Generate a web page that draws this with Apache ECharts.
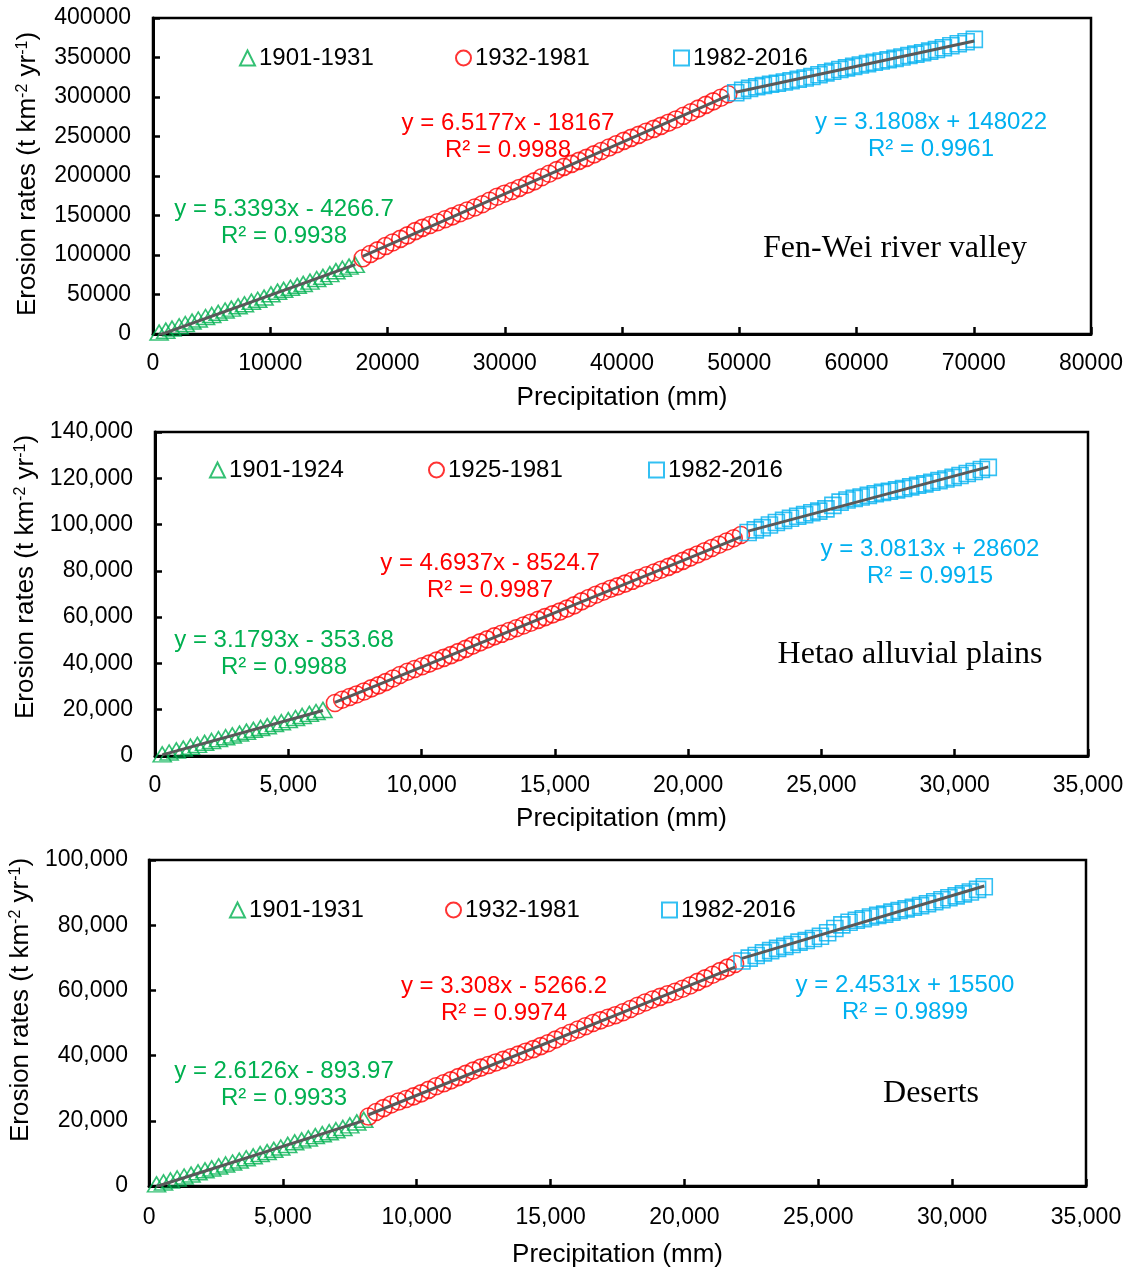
<!DOCTYPE html>
<html><head><meta charset="utf-8">
<script src="https://cdn.jsdelivr.net/npm/echarts@6/dist/echarts.min.js"></script>
<style>html,body{margin:0;padding:0;background:#fff}#c{width:1132px;height:1270px}</style>
</head><body><div id="c"></div>
<script>
const FONT = '"Liberation Sans", Arial, Helvetica, sans-serif';
const SERIF = '"Liberation Serif", "Times New Roman", serif';

// ---------- Fen-Wei river valley ----------
const fenweiPeriods = ['1901-1931', '1932-1981', '1982-2016'];
const fenwei1 = [[520,1800],[1090,4200],[1620,6900],[2230,9800],[2750,12600],[3330,15700],[3860,18300],[4480,21500],[5010,24100],[5560,26800],[6150,29700],[6680,32100],[7260,35000],[7800,37600],[8390,40900],[8930,43300],[9470,46100],[10060,50200],[10620,53600],[11140,55900],[11720,58500],[12300,61000],[12810,63400],[13390,66300],[13960,69600],[14490,72400],[15080,75800],[15600,79500],[16150,82600],[16720,85300],[17250,87500]];
const fenwei2 = [[17880,95800],[18520,101200],[19150,105900],[19820,111300],[20430,115800],[21090,120400],[21700,124900],[22360,130200],[22980,134300],[23620,138000],[24250,141500],[24900,145200],[25530,148900],[26180,152800],[26790,156300],[27440,160100],[28080,164200],[28700,168700],[29350,173800],[29980,177600],[30620,181000],[31240,184900],[31900,189100],[32510,193200],[33160,198500],[33780,202900],[34430,207400],[35050,211500],[35700,215300],[36330,219100],[36960,223000],[37610,227400],[38230,231600],[38880,236000],[39500,240100],[40150,244500],[40780,248300],[41420,252000],[42050,256000],[42700,259700],[43320,263400],[43970,267500],[44600,271600],[45240,276200],[45880,280700],[46500,285300],[47150,290000],[47780,294500],[48420,299000],[49060,303500]];
const fenwei3 = [[49700,305300],[50290,308400],[50880,310900],[51490,312900],[52060,314500],[52670,316100],[53250,317500],[53850,319000],[54420,320600],[55030,322400],[55620,324100],[56200,326000],[56800,328200],[57390,330500],[57970,332600],[58580,334900],[59150,336900],[59760,338800],[60330,340500],[60940,342300],[61520,343900],[62110,345600],[62700,347200],[63290,348900],[63880,350700],[64470,352500],[65060,354300],[65640,356000],[66240,358100],[66820,360100],[67410,362300],[68050,364800],[68680,367500],[69350,370000],[70050,373000]];
const fenweiFits = [[5.3393, -4266.7], [6.5177, -18167], [3.1808, 148022]];
const fenweiEqs = [['y = 5.3393x - 4266.7', 'R² = 0.9938'], ['y = 6.5177x - 18167', 'R² = 0.9988'], ['y = 3.1808x + 148022', 'R² = 0.9961']];

// ---------- Hetao alluvial plains ----------
const hetaoPeriods = ['1901-1924', '1925-1981', '1982-2016'];
const hetao1 = [[270,700],[530,1500],[800,2400],[1060,3200],[1330,4000],[1590,4800],[1860,5700],[2120,6500],[2380,7300],[2650,8100],[2900,8900],[3170,9700],[3430,10500],[3690,11300],[3960,12100],[4210,12900],[4480,13800],[4740,14600],[5000,15500],[5270,16400],[5520,17300],[5790,18200],[6040,19000],[6300,19900]];
const hetao2 = [[6750,22900],[7020,24300],[7300,25500],[7560,26600],[7840,27900],[8110,29200],[8380,30500],[8650,31900],[8930,33500],[9190,35000],[9470,36400],[9740,37600],[10020,38800],[10280,39900],[10560,41200],[10830,42400],[11100,43600],[11370,44900],[11650,46300],[11910,47700],[12190,49100],[12460,50400],[12730,51700],[13000,52800],[13280,54000],[13550,55200],[13820,56400],[14090,57600],[14370,58800],[14630,60000],[14910,61200],[15180,62400],[15450,63700],[15720,65100],[16000,66800],[16270,68300],[16540,69700],[16810,71000],[17090,72300],[17350,73300],[17630,74500],[17900,75700],[18170,76900],[18440,78100],[18720,79300],[18980,80500],[19260,81700],[19530,83000],[19800,84300],[20070,85700],[20350,87100],[20620,88500],[20890,89900],[21160,91300],[21440,92700],[21710,94100],[21980,95500]];
const hetao3 = [[22250,96600],[22520,97700],[22780,98700],[23050,99800],[23310,100900],[23580,101800],[23840,102700],[24110,103600],[24370,104300],[24640,105100],[24900,105800],[25170,106800],[25430,108300],[25700,109700],[25960,110600],[26230,111300],[26490,111900],[26760,112600],[27020,113300],[27290,113900],[27550,114400],[27820,115000],[28080,115600],[28350,116300],[28610,117000],[28880,117600],[29140,118300],[29410,119000],[29670,119700],[29940,120400],[30200,121200],[30470,122100],[30730,122900],[31000,123800],[31260,124700]];
const hetaoFits = [[3.1793, -353.68], [4.6937, -8524.7], [3.0813, 28602]];
const hetaoEqs = [['y = 3.1793x - 353.68', 'R² = 0.9988'], ['y = 4.6937x - 8524.7', 'R² = 0.9987'], ['y = 3.0813x + 28602', 'R² = 0.9915']];

// ---------- Deserts ----------
const desertPeriods = ['1901-1931', '1932-1981', '1982-2016'];
const desert1 = [[280,500],[540,1100],[800,1700],[1050,2300],[1310,2900],[1570,3500],[1830,4200],[2090,4800],[2340,5400],[2600,6000],[2860,6600],[3120,7200],[3370,7800],[3630,8500],[3890,9100],[4150,9800],[4410,10400],[4660,11100],[4920,11800],[5180,12600],[5440,13400],[5700,14000],[5950,14600],[6210,15300],[6470,15900],[6730,16500],[6980,17100],[7240,17800],[7500,18600],[7760,19500],[8020,20300]];
const desert2 = [[8200,21300],[8480,22700],[8760,23900],[9040,25000],[9320,25900],[9600,26700],[9880,27500],[10160,28400],[10440,29500],[10720,30600],[11000,31500],[11270,32400],[11550,33400],[11830,34400],[12110,35400],[12390,36300],[12670,37100],[12950,37900],[13230,38700],[13510,39500],[13790,40300],[14070,41200],[14350,42000],[14630,42900],[14900,43800],[15180,44900],[15460,46000],[15740,47000],[16020,48000],[16300,49000],[16580,50000],[16860,50800],[17140,51600],[17420,52400],[17700,53300],[17980,54300],[18250,55300],[18530,56300],[18810,57200],[19090,58000],[19370,58800],[19650,59600],[19930,60500],[20210,61500],[20490,62600],[20770,63700],[21050,64800],[21330,65900],[21610,67000],[21890,68100]];
const desert3 = [[22150,69000],[22420,69900],[22680,70700],[22950,71500],[23220,72200],[23480,72900],[23750,73500],[24020,74100],[24280,74800],[24550,75300],[24820,75900],[25080,76600],[25350,77700],[25620,79000],[25880,80100],[26150,80900],[26420,81500],[26680,82000],[26950,82500],[27220,83000],[27480,83400],[27750,84000],[28020,84500],[28280,85000],[28550,85500],[28820,86000],[29080,86600],[29350,87200],[29620,87800],[29880,88400],[30150,89000],[30420,89600],[30680,90200],[30950,91000],[31200,91800]];
const desertFits = [[2.6126, -893.97], [3.308, -5266.2], [2.4531, 15500]];
const desertEqs = [['y = 2.6126x - 893.97', 'R² = 0.9933'], ['y = 3.308x - 5266.2', 'R² = 0.9974'], ['y = 2.4531x + 15500', 'R² = 0.9899']];

const regionNames = ['Fen-Wei river valley', 'Hetao alluvial plains', 'Deserts'];
const xAxisTitle = 'Precipitation (mm)';

// ---------- styles / layout ----------
const COLORS = ['#00B050', '#FF0000', '#00B0F0'];
const SYMBOLS = ['triangle', 'circle', 'rect'];
const SYMSIZE = [[18, 15], 17, 16];
const panels = [
  { grid: {left: 153, top: 18, width: 938, height: 316}, xMax: 80000, xInt: 10000, yMax: 400000, yInt: 50000, comma: false,
    data: [fenwei1, fenwei2, fenwei3], names: fenweiPeriods, fits: fenweiFits, eqs: fenweiEqs,
    eqPos: [[284, 209], [508, 123], [931, 122]], labelPos: [895, 249], legendLeft: [239, 455, 673], legendY: 58,
    xLabelMargin: 18, xNameGap: 51, yLabelMargin: 22, yNameGap: 112, yNameShift: 4 },
  { grid: {left: 155, top: 432, width: 933, height: 324}, xMax: 35000, xInt: 5000, yMax: 140000, yInt: 20000, comma: true,
    data: [hetao1, hetao2, hetao3], names: hetaoPeriods, fits: hetaoFits, eqs: hetaoEqs,
    eqPos: [[284, 640], [490, 563], [930, 549]], labelPos: [910, 655], legendLeft: [209, 428, 648], legendY: 470,
    xLabelMargin: 18, xNameGap: 50, yLabelMargin: 22, yNameGap: 113, yNameShift: 34 },
  { grid: {left: 148, top: 860, width: 938, height: 326}, xMax: 35000, xInt: 5000, yMax: 100000, yInt: 20000, comma: true,
    data: [desert1, desert2, desert3], names: desertPeriods, fits: desertFits, eqs: desertEqs,
    eqPos: [[284, 1071], [504, 986], [905, 985]], labelPos: [931, 1094], legendLeft: [229, 445, 661], legendY: 910,
    xLabelMargin: 20, xNameGap: 56, yLabelMargin: 21, yNameGap: 112, yNameShift: 46 }
];

const grid = [], xAxis = [], yAxis = [], series = [], legend = [], graphic = [];
const fmtComma = v => Number(v).toLocaleString('en-US');
const fmtPlain = v => String(v);

panels.forEach((p, i) => {
  grid.push(Object.assign({ show: true, borderColor: '#000', borderWidth: 2.5, backgroundColor: 'transparent', containLabel: false }, p.grid));
  xAxis.push({
    type: 'value', gridIndex: i, min: 0, max: p.xMax, interval: p.xInt,
    axisLine: { show: true, onZero: false, lineStyle: { color: '#000', width: 3 } },
    axisTick: { show: true, inside: true, length: 7, lineStyle: { color: '#000', width: 2.5 } },
    axisLabel: { fontSize: 23, color: '#000', fontFamily: FONT, margin: p.xLabelMargin, showMaxLabel: true, hideOverlap: false,
      formatter: p.comma ? fmtComma : fmtPlain },
    splitLine: { show: false },
    name: xAxisTitle, nameLocation: 'middle', nameGap: p.xNameGap,
    nameTextStyle: { fontSize: 26, color: '#000', fontFamily: FONT }
  });
  yAxis.push({
    type: 'value', gridIndex: i, min: 0, max: p.yMax, interval: p.yInt,
    axisLine: { show: true, onZero: false, lineStyle: { color: '#000', width: 3 } },
    axisTick: { show: true, inside: true, length: 7, lineStyle: { color: '#000', width: 2.5 } },
    axisLabel: { fontSize: 23, color: '#000', fontFamily: FONT, margin: p.yLabelMargin, formatter: p.comma ? fmtComma : fmtPlain },
    splitLine: { show: false },
    name: 'Erosion rates (t km{sup|-2} yr{sup|-1})', nameLocation: 'middle', nameGap: p.yNameGap, nameRotate: 90,
    nameTextStyle: { fontSize: 26, color: '#000', fontFamily: FONT, padding: [0, 0, 0, p.yNameShift],
      rich: { sup: { fontSize: 16, color: '#000', fontFamily: FONT, verticalAlign: 'top' } } }
  });
  p.data.forEach((d, k) => {
    series.push({
      type: 'scatter', name: p.names[k], xAxisIndex: i, yAxisIndex: i, data: d,
      symbol: SYMBOLS[k], symbolSize: SYMSIZE[k],
      itemStyle: { color: 'rgba(255,255,255,0)', borderColor: COLORS[k], borderWidth: 1.6 },
      z: 2, silent: true
    });
    const xs = d.map(v => v[0]);
    const x0 = Math.min(...xs), x1 = Math.max(...xs);
    const [m, b] = p.fits[k];
    series.push({
      type: 'line', name: 'fit' + i + k, xAxisIndex: i, yAxisIndex: i,
      data: [[x0, m * x0 + b], [x1, m * x1 + b]],
      showSymbol: false, symbol: 'none', lineStyle: { color: '#595959', width: 3 }, z: 3, silent: true
    });
    legend.push({
      data: [p.names[k]], left: p.legendLeft[k], top: p.legendY - 12, padding: 0,
      itemWidth: 15, itemHeight: 15, itemGap: 0, selectedMode: false,
      textStyle: { fontSize: 24, lineHeight: 24, color: '#000', fontFamily: FONT, padding: [0, 0, 0, -1] }
    });
    p.eqs[k].forEach((t, j) => {
      graphic.push({
        type: 'text', x: p.eqPos[k][0], y: p.eqPos[k][1] + j * 27, silent: true,
        style: { text: t, fill: COLORS[k], font: '24px ' + FONT, textAlign: 'center', textVerticalAlign: 'middle' }
      });
    });
  });
  graphic.push({
    type: 'text', x: p.labelPos[0], y: p.labelPos[1], silent: true,
    style: { text: regionNames[i], fill: '#000', font: '32px ' + SERIF, textAlign: 'center', textVerticalAlign: 'middle' }
  });
});

const chart = echarts.init(document.getElementById('c'), null, { renderer: 'canvas' });
chart.setOption({ animation: false, backgroundColor: '#fff', grid, xAxis, yAxis, series, legend, graphic });
</script>
</body></html>
